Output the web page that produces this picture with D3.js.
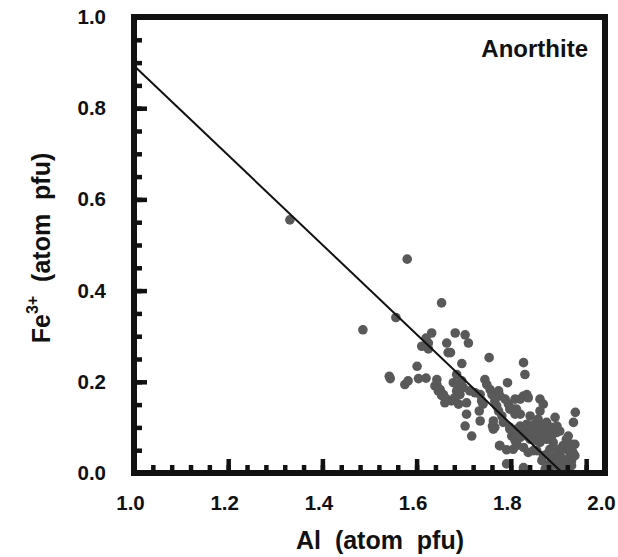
<!DOCTYPE html>
<html>
<head>
<meta charset="utf-8">
<script src="https://cdn.jsdelivr.net/npm/d3@7"></script>
<style>
  body { margin: 0; background: #fff; }
  text { font-family: "Liberation Sans", Arial, sans-serif; font-weight: bold; fill: #111; }
</style>
</head>
<body>
<div id="chart"></div>
<script>
// Al vs Fe3+ (atom pfu), anorthite analyses
const points = [
  [1.331,0.555],[1.580,0.469],[1.653,0.373],[1.556,0.341],[1.486,0.314],
  [1.632,0.307],[1.620,0.296],[1.625,0.285],[1.611,0.278],[1.625,0.272],[1.664,0.285],[1.667,0.264],
  [1.601,0.234],[1.542,0.212],[1.544,0.207],[1.575,0.194],[1.582,0.202],[1.604,0.207],[1.620,0.208],
  [1.643,0.205],[1.639,0.191],[1.646,0.180],[1.653,0.170],[1.660,0.154],
  [1.682,0.307],[1.703,0.303],[1.710,0.285],[1.672,0.264],[1.754,0.253],[1.696,0.240],[1.685,0.216],
  [1.643,0.194],[1.650,0.183],[1.657,0.172],[1.664,0.162],[1.674,0.158],[1.678,0.198],[1.689,0.194],
  [1.696,0.202],[1.699,0.187],[1.685,0.180],[1.692,0.172],[1.681,0.165],[1.689,0.151],[1.706,0.154],
  [1.713,0.180],[1.724,0.176],[1.735,0.172],[1.745,0.205],[1.749,0.194],[1.756,0.183],[1.760,0.172],
  [1.738,0.158],[1.741,0.151],[1.774,0.180],[1.777,0.169],[1.793,0.198],[1.766,0.158],[1.770,0.147],
  [1.774,0.136],[1.781,0.125],[1.788,0.162],[1.795,0.151],[1.798,0.140],[1.809,0.162],[1.812,0.136],
  [1.706,0.129],[1.733,0.136],[1.735,0.114],[1.703,0.103],[1.761,0.103],[1.763,0.096],[1.784,0.111],
  [1.717,0.081],[1.776,0.060],[1.798,0.096],[1.802,0.081],[1.809,0.071],[1.812,0.060],[1.791,0.020],
  [1.827,0.242],[1.830,0.216],[1.820,0.162],[1.827,0.169],[1.834,0.172],[1.837,0.165],[1.862,0.162],
  [1.869,0.151],[1.812,0.140],[1.820,0.129],[1.841,0.125],[1.858,0.118],[1.876,0.111],[1.894,0.122],
  [1.798,0.100],[1.805,0.089],[1.812,0.096],[1.816,0.081],[1.823,0.089],[1.830,0.096],[1.834,0.081],
  [1.841,0.103],[1.848,0.092],[1.851,0.081],[1.855,0.071],[1.862,0.096],[1.869,0.085],[1.876,0.074],
  [1.883,0.096],[1.887,0.081],[1.890,0.067],[1.898,0.089],[1.898,0.103],
  [1.918,0.074],[1.929,0.063],[1.936,0.063],[1.911,0.060],[1.922,0.049],[1.904,0.045],[1.883,0.038],
  [1.890,0.027],[1.898,0.016],[1.907,0.034],[1.918,0.023],[1.929,0.027],[1.937,0.133],[1.933,0.111],
  [1.827,0.009],[1.873,0.009],[1.911,0.009],
  [1.805,0.140],[1.809,0.129],[1.862,0.136],
  [1.820,0.103],[1.834,0.107],[1.851,0.107],[1.869,0.103],[1.887,0.100],[1.904,0.092],[1.922,0.081],
  [1.915,0.063],[1.901,0.052],[1.883,0.052],[1.862,0.067],[1.841,0.074],[1.820,0.078],[1.809,0.092],
  [1.812,0.067],[1.827,0.056],[1.848,0.049],[1.869,0.038],[1.887,0.031],[1.904,0.031],[1.922,0.031],
  [1.929,0.016],[1.907,0.016],[1.883,0.020],[1.866,0.027],[1.827,0.012],
  [1.837,0.045],[1.855,0.049],[1.925,0.027],[1.932,0.045],[1.791,0.051],[1.766,0.100],[1.763,0.114],
  [1.904,0.009],[1.936,0.038],[1.777,0.060],[1.805,0.052],[1.876,0.041],[1.898,0.038],[1.883,0.012]
];

// fitted line endpoints
const fitAl = [1.0, 1.91];
const fitFe = [0.893, 0.0];

const xLabelTicks = [1.0, 1.2, 1.4, 1.6, 1.8, 2.0];
const xLongTicks = [1.2, 1.4, 1.6, 1.8, 1.96];
const xShortTicks = d3.range(1.04, 1.99, 0.04);
const yLabelTicks = [0.0, 0.2, 0.4, 0.6, 0.8, 1.0];
const yShortTicks = d3.range(0.05, 0.99, 0.05);

const width = 618, height = 557;
const margin = { top: 17, right: 13, bottom: 84, left: 134 };

const svg = d3.select("#chart").append("svg")
  .attr("width", width)
  .attr("height", height);

const x = d3.scaleLinear()
  .domain([1, 2])
  .range([margin.left, width - margin.right]);

const y = d3.scaleLinear()
  .domain([0, 1])
  .range([height - margin.bottom, margin.top]);

// points first so the frame and ticks sit on top
svg.append("g")
  .selectAll("circle")
  .data(points)
  .join("circle")
  .attr("cx", d => x(d[0]))
  .attr("cy", d => y(d[1]))
  .attr("r", 4.8)
  .attr("fill", "#595959");

svg.append("line")
  .attr("x1", x(fitAl[0])).attr("y1", y(fitFe[0]))
  .attr("x2", x(fitAl[1])).attr("y2", y(fitFe[1]))
  .attr("stroke", "#111")
  .attr("stroke-width", 2);

// tick marks (inward)
function tickAxis(axis, transform, size) {
  const g = svg.append("g")
    .attr("transform", transform)
    .call(axis.tickSize(size).tickFormat(""));
  g.select(".domain").remove();
  g.selectAll(".tick line").attr("stroke", "#111").attr("stroke-width", 4.5);
  return g;
}

const xb = `translate(0,${y(0)})`;
const yl = `translate(${x(1)},0)`;
tickAxis(d3.axisBottom(x).tickValues(xShortTicks), xb, -8);
tickAxis(d3.axisBottom(x).tickValues(xLongTicks), xb, -14);
tickAxis(d3.axisLeft(y).tickValues(yShortTicks), yl, -8);
tickAxis(d3.axisLeft(y).tickValues(yLabelTicks), yl, -13);

// frame
svg.append("rect")
  .attr("x", x(1))
  .attr("y", y(1))
  .attr("width", x(2) - x(1))
  .attr("height", y(0) - y(1))
  .attr("fill", "none")
  .attr("stroke", "#111")
  .attr("stroke-width", 6);

// tick labels
const xLab = svg.append("g")
  .attr("transform", `translate(-4,${y(0)})`)
  .call(d3.axisBottom(x).tickValues(xLabelTicks).tickSize(0).tickPadding(22).tickFormat(d3.format(".1f")));
xLab.select(".domain").remove();
xLab.selectAll("text").style("font-size", "20.5px").attr("fill", "#111");

const yLab = svg.append("g")
  .attr("transform", `translate(${x(1)},0)`)
  .call(d3.axisLeft(y).tickValues(yLabelTicks).tickSize(0).tickPadding(28).tickFormat(d3.format(".1f")));
yLab.select(".domain").remove();
yLab.selectAll("text").style("font-size", "20.5px").attr("fill", "#111");

// titles
svg.append("text")
  .attr("x", 380)
  .attr("y", 549)
  .attr("text-anchor", "middle")
  .style("font-size", "25px")
  .style("white-space", "pre")
  .text("Al  (atom  pfu)");

const yTitle = svg.append("text")
  .attr("transform", `translate(50,248) rotate(-90)`)
  .attr("text-anchor", "middle")
  .style("font-size", "25px")
  .style("white-space", "pre");
yTitle.append("tspan").text("Fe");
yTitle.append("tspan").attr("dy", -12).style("font-size", "16px").text("3+");
yTitle.append("tspan").attr("dy", 12).text("  (atom  pfu)");

svg.append("text")
  .attr("x", 588)
  .attr("y", 57)
  .attr("text-anchor", "end")
  .style("font-size", "24px")
  .text("Anorthite");
</script>
</body>
</html>
